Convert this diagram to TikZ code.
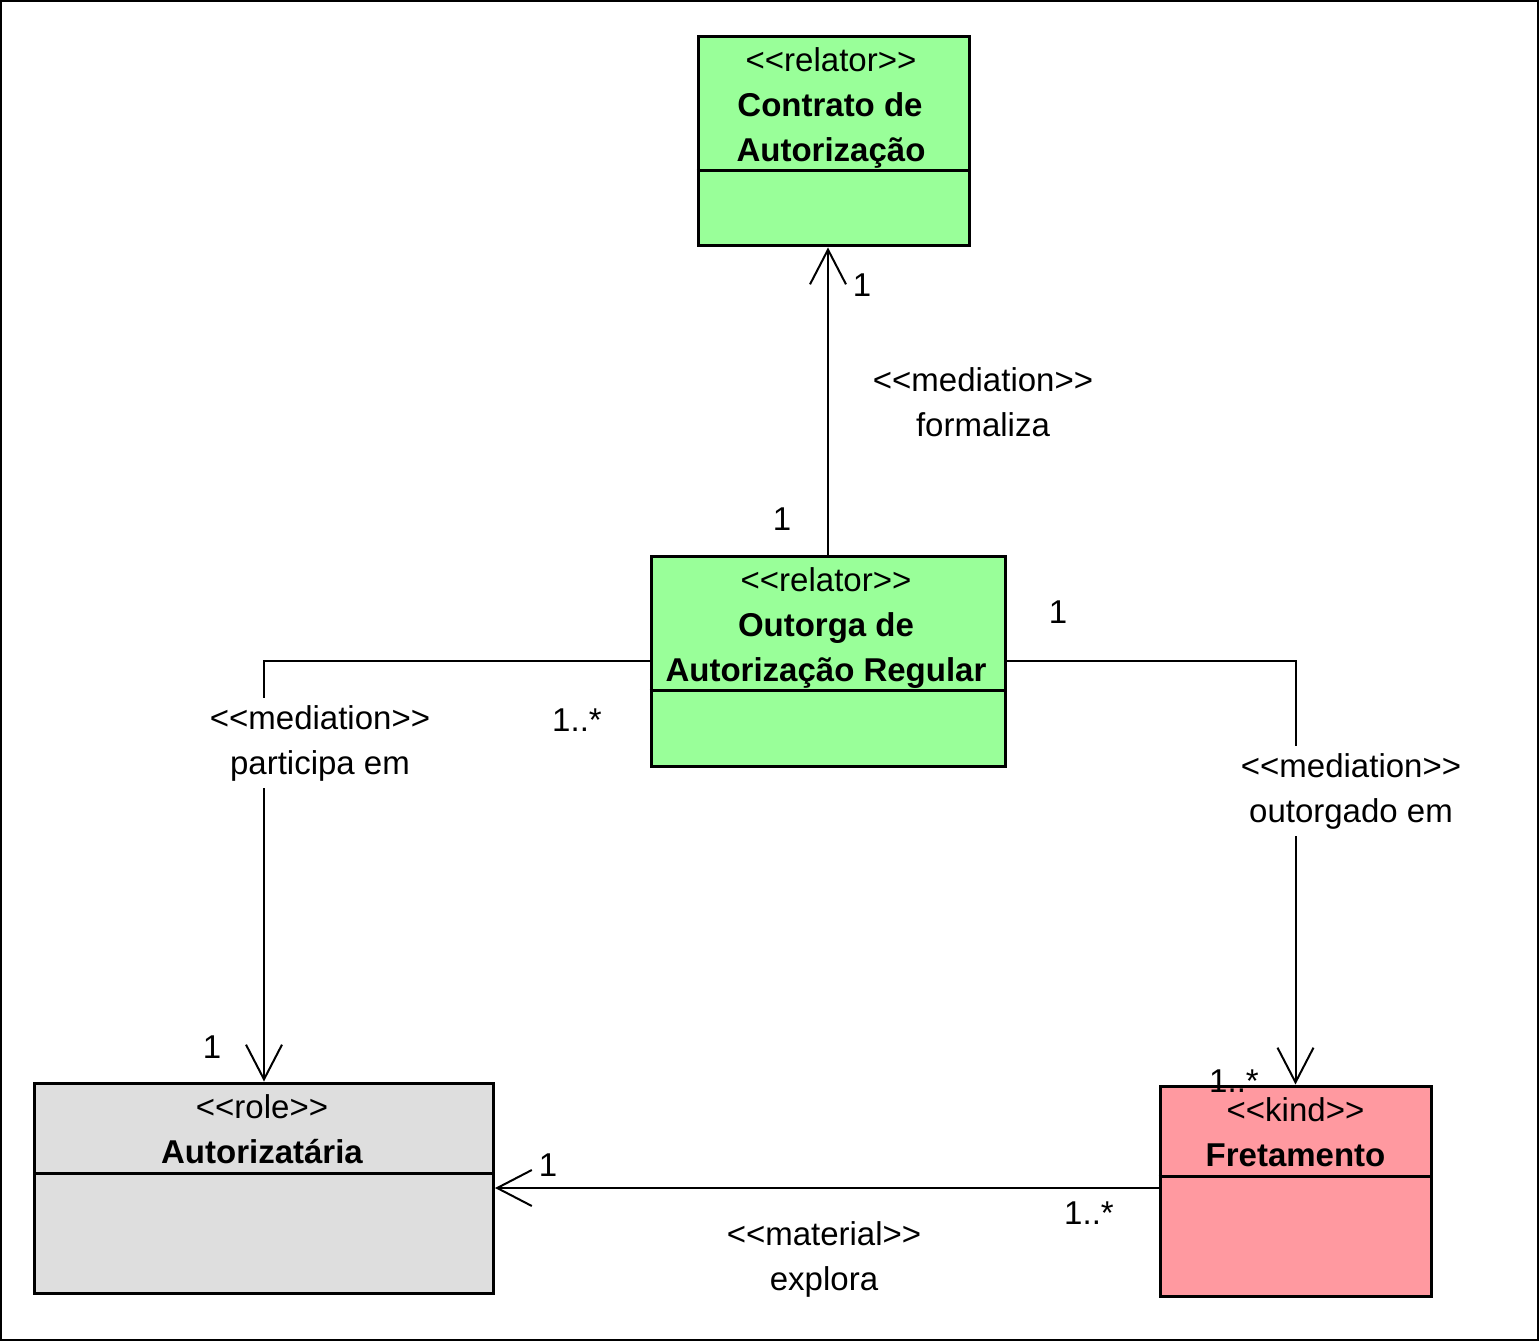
\documentclass[tikz,border=0pt]{standalone}
\usepackage{fontspec}
\setmainfont{Liberation Sans}[Ligatures=TeXOff]
\usetikzlibrary{arrows.meta}

\definecolor{relatorgreen}{RGB}{153,255,153}
\definecolor{rolegray}{RGB}{222,222,222}
\definecolor{kindpink}{RGB}{255,153,160}

\tikzset{every picture/.style={line width=1.5pt}}

\begin{document}
\begin{tikzpicture}[x=0.75pt,y=0.75pt,yscale=-1,
  classbox/.style={draw, line width=2.25pt, inner sep=0pt},
  divider/.style={line width=2.25pt},
  umltext/.style={font=\fontsize{24.75}{33.75}\selectfont, inner sep=0pt, anchor=base},
  umlname/.style={umltext, font=\fontsize{24.75}{33.75}\selectfont\bfseries},
  assoc/.style={line width=1.5pt, -{Straight Barb[length=26pt,width=27pt]}},
  assoclabel/.style={font=\fontsize{24.75}{33.75}\selectfont, align=center, inner xsep=0pt, inner ysep=5pt},
  onlinelabel/.style={assoclabel, fill=white},
  mult/.style={umltext}]
\useasboundingbox (0,0) rectangle (1539,1341);
%frame
\draw (1,1) rectangle (1538,1340);

%Classes
\node[classbox, fill=relatorgreen, minimum width=203.25pt, minimum height=156.75pt] (contrato) at (833.5,141.5) {};
\draw[divider] (contrato.west |- 0,171) -- (contrato.east |- 0,171);
\node[classbox, fill=relatorgreen, minimum width=265.5pt, minimum height=157.5pt] (outorga) at (828,661) {};
\draw[divider] (outorga.west |- 0,690) -- (outorga.east |- 0,690);
\node[classbox, fill=rolegray, minimum width=344.25pt, minimum height=157.5pt] (autoriz) at (264,1188) {};
\draw[divider] (autoriz.west |- 0,1173) -- (autoriz.east |- 0,1173);
\node[classbox, fill=kindpink, minimum width=203.25pt, minimum height=157.5pt] (fretam) at (1295.5,1191) {};
\draw[divider] (fretam.west |- 0,1176) -- (fretam.east |- 0,1176);

%Associations
\draw[assoc] (outorga.north) -- (outorga.north |- contrato.south);
\draw[assoc] (outorga.west) -| (autoriz.north);
\draw[assoc] (outorga.east) -| (fretam.north);
\draw[assoc] (fretam.west |- autoriz.east) -- (autoriz.east);

% Text Node
\node[umltext] (contrato-st) at (831,72) {<<relator>>};
\node[umlname] (contrato-nm1) at (830,117) {Contrato de};
\node[umlname] (contrato-nm2) at (831,162) {Autorização};
% Text Node
\node[umltext] (outorga-st) at (826,591) {<<relator>>};
\node[umlname] (outorga-nm1) at (826,636) {Outorga de};
\node[umlname] (outorga-nm2) at (826,681) {Autorização Regular};
% Text Node
\node[umltext] (autoriz-st) at (262,1118) {<<role>>};
\node[umlname] (autoriz-nm) at (262,1163) {Autorizatária};
% Text Node
\node[umltext] (fretam-st) at (1295.5,1121) {<<kind>>};
\node[umlname] (fretam-nm) at (1295.5,1166) {Fretamento};

% Association labels
\node[assoclabel] (lab-formaliza) at (983,402) {<<mediation>>\\formaliza};
\node[onlinelabel] (lab-participa) at (320,743) {<<mediation>>\\participa em};
\node[onlinelabel] (lab-outorgado) at (1351,791) {<<mediation>>\\outorgado em};
\node[assoclabel] (lab-explora) at (824,1259) {<<material>>\\explora};

% Multiplicities
\node[mult] (m-contrato) at (862,297) {1};
\node[mult] (m-formaliza) at (782,530) {1};
\node[mult] (m-participa) at (577,731) {1..*};
\node[mult] (m-autoriz) at (212,1058) {1};
\node[mult] (m-outorgado) at (1058,623) {1};
\node[mult] (m-fretam) at (1234,1092) {1..*};
\node[mult] (m-explora1) at (548,1176) {1};
\node[mult] (m-explora2) at (1089,1224) {1..*};
\end{tikzpicture}
\end{document}
